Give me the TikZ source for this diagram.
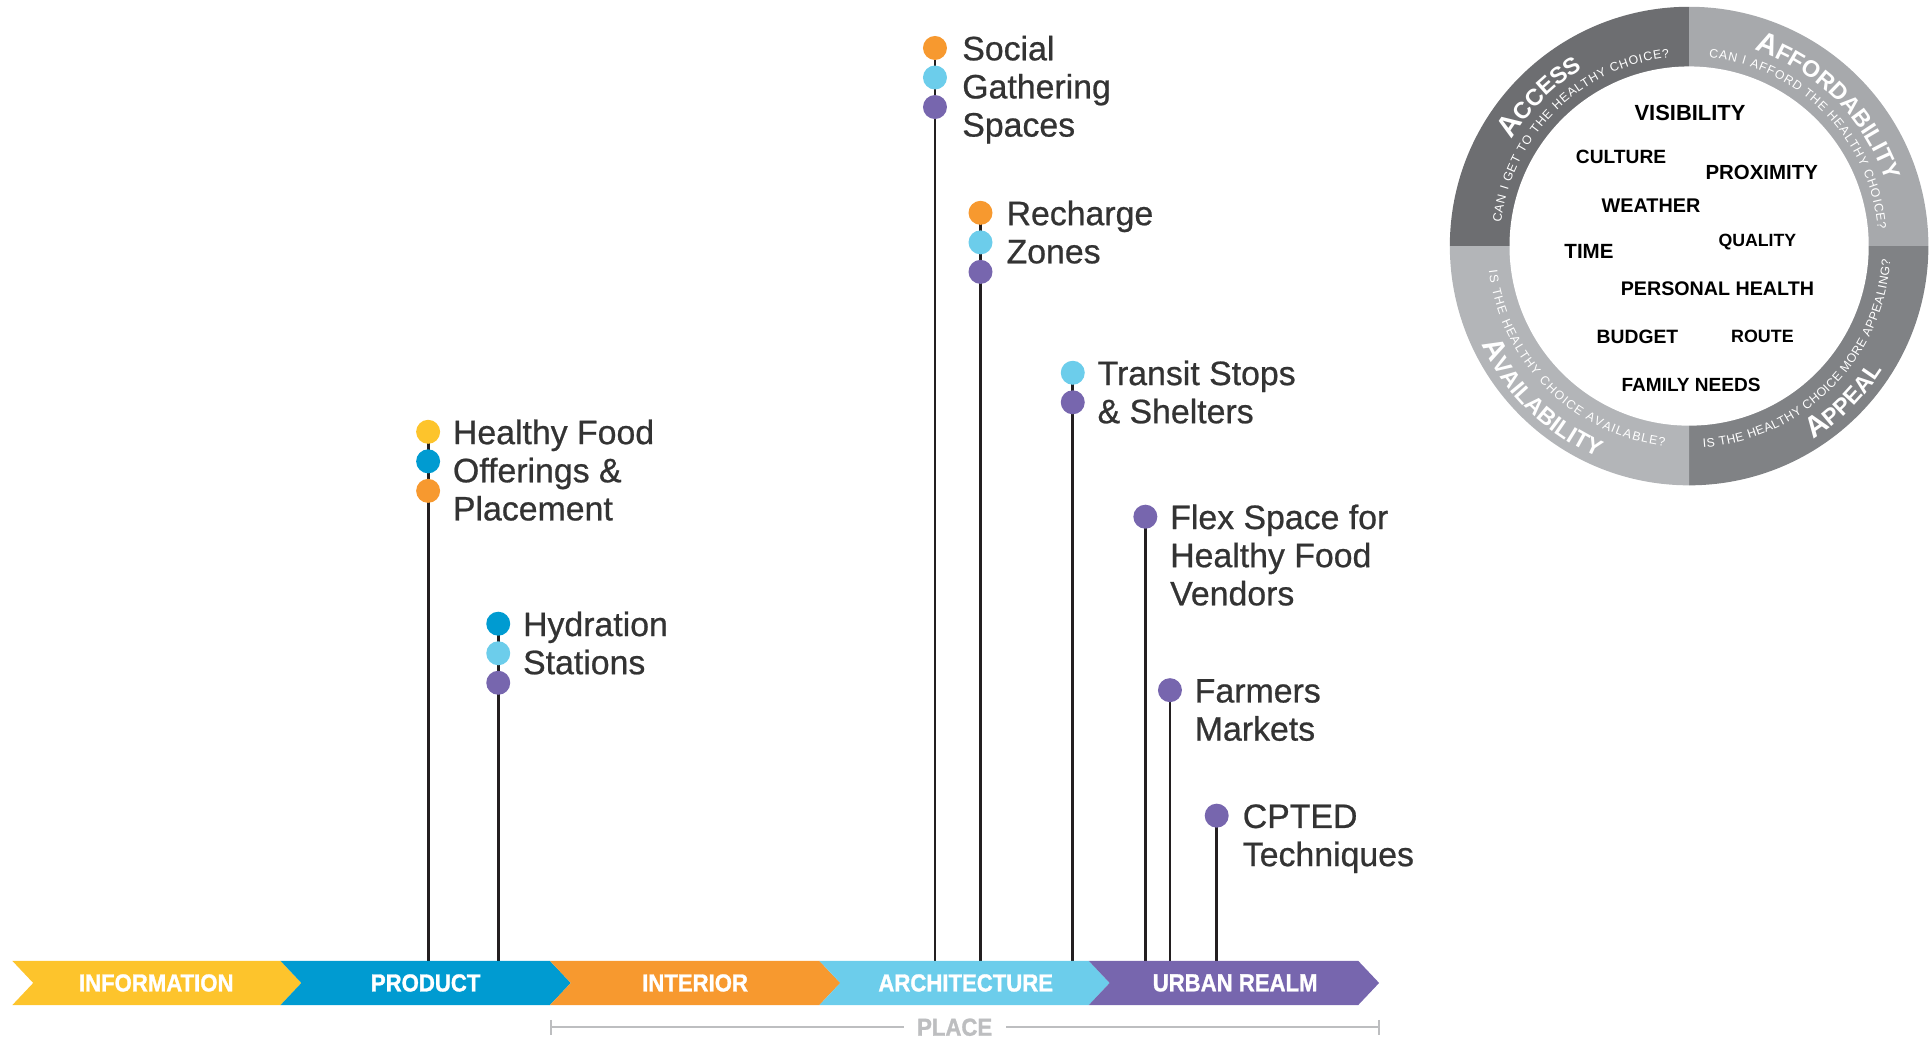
\documentclass[tikz,border=0pt]{standalone}
\usepackage{fontspec}
\setmainfont{Liberation Sans}
\newfontfamily\barfont[FakeStretch=0.9,FakeBold=1.2]{Liberation Sans}
\newfontfamily\lblfont[FakeBold=0.7]{Liberation Sans}
\usetikzlibrary{decorations.text}
\definecolor{cyel}{HTML}{FDC42C}
\definecolor{cblue}{HTML}{009BD1}
\definecolor{corange}{HTML}{F7992F}
\definecolor{clight}{HTML}{6CCDEB}
\definecolor{cpurple}{HTML}{7766AE}
\definecolor{ctext}{HTML}{333333}
\definecolor{cstem}{HTML}{231F20}
\definecolor{cplace}{HTML}{BDBEC0}
\definecolor{gaccess}{HTML}{6D6E71}
\definecolor{gafford}{HTML}{A7A9AC}
\definecolor{gappeal}{HTML}{808285}
\definecolor{gavail}{HTML}{B3B5B8}
\newcommand\ringbig{\fontsize{24}{24}\selectfont\bfseries}
\newcommand\ringsmall{\fontsize{19}{19}\selectfont\bfseries}
\newcommand\ringq{\fontsize{10}{10}\selectfont}
\newcommand\fsz[1]{\fontsize{#1}{#1}\selectfont}
\pgfdeclarelayer{bg}
\pgfsetlayers{bg,main}
\begin{document}
\begin{tikzpicture}[x=1pt,y=1pt,
  dot/.style={circle, fill=#1, minimum size=19.5pt, inner sep=0pt},
  stem/.style={line width=2.3pt, draw=cstem},
  lbl/.style={anchor=base west, inner sep=0pt, align=left, text=ctext, font=\lblfont\fontsize{27.5}{31}\selectfont},
  barlbl/.style={text=white, font=\barfont\bfseries\fsz{20}, inner sep=0pt},
  inlbl/.style={text=black, inner sep=0pt},
  ringword/.style={decorate, decoration={text along path, text color=white, text align=center, text={#1}}},
  ringquest/.style={decorate, decoration={text along path, text color=white, text align=fit to path, text={|\ringq|#1}}}
]
\useasboundingbox (0,0) rectangle (1568,-843);

% ---------- bar ----------
\fill[cyel] (10,-781) -- (228,-781) -- (245,-799) -- (228,-817) -- (10,-817) -- (27,-799) -- cycle;
\fill[cblue] (228,-781) -- (447,-781) -- (464,-799) -- (447,-817) -- (228,-817) -- (245,-799) -- cycle;
\fill[corange] (447,-781) -- (666,-781) -- (683,-799) -- (666,-817) -- (447,-817) -- (464,-799) -- cycle;
\fill[clight] (666,-781) -- (885,-781) -- (902,-799) -- (885,-817) -- (666,-817) -- (683,-799) -- cycle;
\fill[cpurple] (885,-781) -- (1104,-781) -- (1121,-799) -- (1104,-817) -- (885,-817) -- (902,-799) -- cycle;
\node[barlbl] (sInfo) at (127,-799) {INFORMATION};
\node[barlbl] (sProd) at (346,-799) {PRODUCT};
\node[barlbl] (sInt) at (565,-799) {INTERIOR};
\node[barlbl] (sArch) at (785,-799) {ARCHITECTURE};
\node[barlbl] (sUrb) at (1004,-799) {URBAN REALM};

% ---------- place bracket ----------
\coordinate (pl) at (448,-835);
\coordinate (pr) at (1121,-835);
\draw[cplace, line width=2pt] (pl) -- (pr);
\draw[cplace, line width=2pt] ([yshift=6]pl) -- ([yshift=-6]pl);
\draw[cplace, line width=2pt] ([yshift=6]pr) -- ([yshift=-6]pr);
\node[fill=white, text=cplace, font=\barfont\bfseries\fsz{20}, inner xsep=11pt, inner ysep=2pt] (place) at (776,-835) {PLACE};

% ---------- bar-top coordinates ----------
\coordinate (b1) at (348,-781);
\coordinate (b2) at (405,-781);
\coordinate (b3) at (760,-781);
\coordinate (b4) at (797,-781);
\coordinate (b5) at (872,-781);
\coordinate (b6) at (931,-781);
\coordinate (b7) at (951,-781);
\coordinate (b8) at (989,-781);

% ---------- dots ----------
\node[dot=cyel] (hf1) at (348,-351) {};
\node[dot=cblue] (hf2) at (348,-375) {};
\node[dot=corange] (hf3) at (348,-399) {};
\node[dot=cblue] (hy1) at (405,-507) {};
\node[dot=clight] (hy2) at (405,-531) {};
\node[dot=cpurple] (hy3) at (405,-555) {};
\node[dot=corange] (so1) at (760,-39) {};
\node[dot=clight] (so2) at (760,-63) {};
\node[dot=cpurple] (so3) at (760,-87) {};
\node[dot=corange] (re1) at (797,-173) {};
\node[dot=clight] (re2) at (797,-197) {};
\node[dot=cpurple] (re3) at (797,-221) {};
\node[dot=clight] (tr1) at (872,-303) {};
\node[dot=cpurple] (tr2) at (872,-327) {};
\node[dot=cpurple] (fl1) at (931,-420) {};
\node[dot=cpurple] (fa1) at (951,-561) {};
\node[dot=cpurple] (cp1) at (989,-663) {};

\begin{pgfonlayer}{bg}
\draw[stem] (hf1.center) -- (b1);
\draw[stem] (hy1.center) -- (b2);
\draw[stem] (so1.center) -- (b3);
\draw[stem] (re1.center) -- (b4);
\draw[stem] (tr1.center) -- (b5);
\draw[stem] (fl1.center) -- (b6);
\draw[stem] (fa1.center) -- (b7);
\draw[stem] (cp1.center) -- (b8);
\end{pgfonlayer}

% ---------- labels (base = last line baseline) ----------
\node[lbl] (tHf) at (368,-423) {Healthy Food\\Offerings \&\\Placement};
\node[lbl] (tHy) at (425,-548) {Hydration\\Stations};
\node[lbl] (tSo) at (782,-111) {Social\\Gathering\\Spaces};
\node[lbl] (tRe) at (818,-214) {Recharge\\Zones};
\node[lbl] (tTr) at (892,-344) {Transit Stops\\\& Shelters};
\node[lbl] (tFl) at (951,-492) {Flex Space for\\Healthy Food\\Vendors};
\node[lbl] (tFa) at (971,-602) {Farmers\\Markets};
\node[lbl] (tCp) at (1010,-704) {CPTED\\Techniques};

% ---------- wheel ----------
\coordinate (C) at (1373,-200);
\fill[gaccess] (C) -- ([shift={(90:194.5)}]C) arc[start angle=90, end angle=180, radius=194.5] -- cycle;
\fill[gafford] (C) -- ([shift={(0:194.5)}]C) arc[start angle=0, end angle=90, radius=194.5] -- cycle;
\fill[gappeal] (C) -- ([shift={(270:194.5)}]C) arc[start angle=270, end angle=360, radius=194.5] -- cycle;
\fill[gavail] (C) -- ([shift={(180:194.5)}]C) arc[start angle=180, end angle=270, radius=194.5] -- cycle;
\node[circle, fill=white, minimum size=292pt, inner sep=0pt] (hub) at (C) {};

% ring words (top: clockwise, bottom: counter-clockwise)
\path[ringword={|\ringbig|A|\ringsmall|CCESS}] ([shift={(175:168)}]C) arc[start angle=175, end angle=95, radius=168];
\path[ringword={|\ringbig|A|\ringsmall|FFORDABILITY}] ([shift={(88:168)}]C) arc[start angle=88, end angle=2, radius=168];
\path[ringword={|\ringbig|A|\ringsmall|VAILABILITY}] ([shift={(186:187)}]C) arc[start angle=186, end angle=266, radius=187];
\path[ringword={|\ringbig|A|\ringsmall|PPEAL}] ([shift={(280:187)}]C) arc[start angle=280, end angle=350, radius=187];

\path[ringquest={CAN I GET TO THE HEALTHY CHOICE?}] ([shift={(173:154)}]C) arc[start angle=173, end angle=96, radius=154];
\path[ringquest={CAN I AFFORD THE HEALTHY CHOICE?}] ([shift={(84:154)}]C) arc[start angle=84, end angle=5, radius=154];
\path[ringquest={IS THE HEALTHY CHOICE AVAILABLE?}] ([shift={(187:164)}]C) arc[start angle=187, end angle=263, radius=164];
\path[ringquest={IS THE HEALTHY CHOICE MORE APPEALING?}] ([shift={(274:164)}]C) arc[start angle=274, end angle=356, radius=164];

% inner words
\node[inlbl, font=\bfseries\fsz{17.8}] (wVis) at (1373.7,-91.6) {VISIBILITY};
\node[inlbl, font=\bfseries\fsz{15.6}] (wCul) at (1317.7,-127.4) {CULTURE};
\node[inlbl, font=\bfseries\fsz{16.6}] (wPro) at (1432,-140) {PROXIMITY};
\node[inlbl, font=\bfseries\fsz{16.1}] (wWea) at (1342,-167) {WEATHER};
\node[inlbl, font=\bfseries\fsz{14.4}] (wQua) at (1428.5,-197) {QUALITY};
\node[inlbl, font=\bfseries\fsz{16.7}] (wTim) at (1291.6,-204) {TIME};
\node[inlbl, font=\bfseries\fsz{16}] (wPer) at (1396,-234.4) {PERSONAL HEALTH};
\node[inlbl, font=\bfseries\fsz{15.7}] (wBud) at (1331,-273.7) {BUDGET};
\node[inlbl, font=\bfseries\fsz{14.5}] (wRou) at (1432.6,-273.7) {ROUTE};
\node[inlbl, font=\bfseries\fsz{15.5}] (wFam) at (1374.6,-313) {FAMILY NEEDS};
\end{tikzpicture}
\end{document}
